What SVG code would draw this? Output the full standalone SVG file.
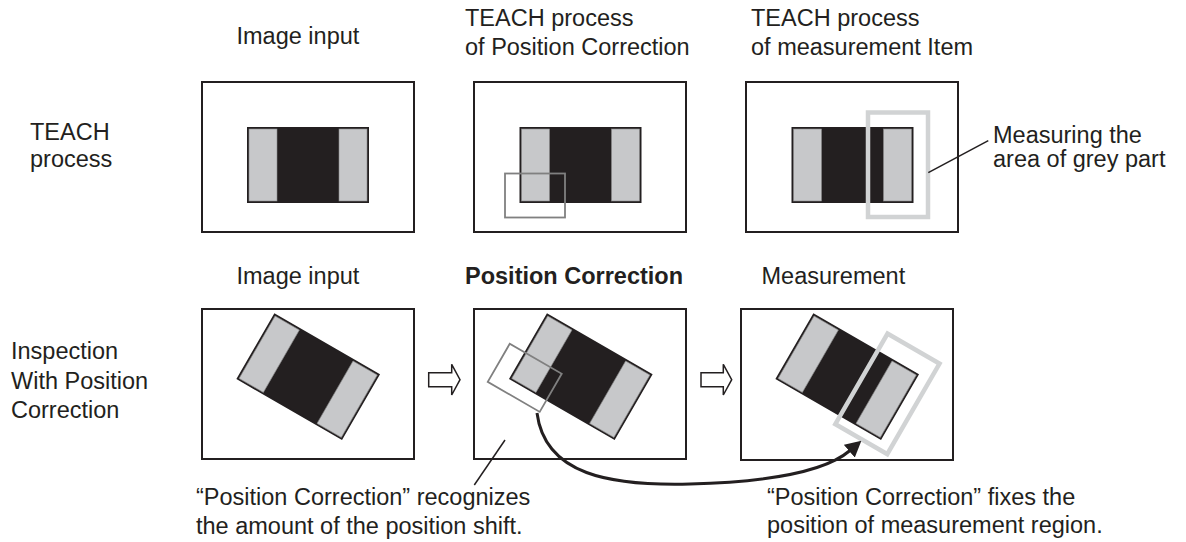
<svg xmlns="http://www.w3.org/2000/svg" width="1186" height="542" viewBox="0 0 1186 542">
<style>
text{font-family:"Liberation Sans",Arial,sans-serif;font-size:23.5px;fill:#231f20}
.b{font-weight:bold}
.frame{fill:#fff;stroke:#231f20;stroke-width:2}
.body{fill:#231f20;stroke:#231f20;stroke-width:2}
.band{fill:#c7c8ca;stroke:#8a8a8a;stroke-width:0.6}
.roi{fill:none;stroke:#808080;stroke-width:1.8}
.mroi{fill:none;stroke:#d1d3d4;stroke-width:4.5}
.lead{fill:none;stroke:#231f20;stroke-width:1.5}
.blk{fill:#fff;stroke:#231f20;stroke-width:1.5;stroke-linejoin:miter}
.curve{fill:none;stroke:#231f20;stroke-width:3}
</style>
<defs>
<g id="chip">
<rect class="body" x="-60" y="-37" width="120" height="74"/>
<rect class="band" x="-59" y="-36" width="28" height="72"/>
<rect class="band" x="31" y="-36" width="28" height="72"/>
</g>
<marker id="ah" markerUnits="userSpaceOnUse" viewBox="0 0 16 17" refX="1" refY="8.5" markerWidth="16" markerHeight="17" orient="auto">
<path d="M0,0 L16,8.5 L0,17 Z" fill="#231f20"/>
</marker>
</defs>
<rect width="1186" height="542" fill="#fff"/>

<g id="labels">
<text x="236.5" y="44">Image input</text>
<text x="465" y="26">TEACH process</text>
<text x="465" y="55">of Position Correction</text>
<text x="751" y="26">TEACH process</text>
<text x="751" y="55">of measurement Item</text>
<text x="30" y="140">TEACH</text>
<text x="30" y="166.5">process</text>
<text x="236.5" y="284">Image input</text>
<text class="b" x="465" y="284">Position Correction</text>
<text x="761.5" y="283.5">Measurement</text>
<text x="11" y="359">Inspection</text>
<text x="11" y="389">With Position</text>
<text x="11" y="418">Correction</text>
</g>

<g id="teach-image-input">
<rect class="frame" x="202" y="82" width="212" height="150"/>
<use href="#chip" x="308" y="165"/>
</g>

<g id="teach-position-correction">
<rect class="frame" x="474" y="82" width="212" height="150"/>
<use href="#chip" x="580.5" y="165"/>
<rect class="roi" x="505" y="173.5" width="60" height="44"/>
</g>

<g id="teach-measurement">
<rect class="frame" x="746" y="82" width="212" height="150"/>
<use href="#chip" x="852.5" y="165"/>
<rect class="mroi" x="868" y="112.5" width="60" height="104.5"/>
<text x="993" y="142.7">Measuring the</text>
<text x="993" y="166.7">area of grey part</text>
</g>

<g id="insp-image-input">
<rect class="frame" x="202" y="309" width="212" height="150"/>
<g transform="translate(308.2,376.7) rotate(30)"><use href="#chip"/></g>
</g>

<g id="insp-position-correction">
<rect class="frame" x="474" y="309" width="212" height="150"/>
<g transform="translate(580.8,376.7) rotate(30)">
<use href="#chip"/>
<rect class="roi" x="-78" y="7" width="60" height="44"/>
</g>
</g>

<g id="insp-measurement">
<rect class="frame" x="741" y="309" width="212" height="151"/>
<g transform="translate(847.2,376.7) rotate(30)">
<use href="#chip"/>
<rect class="mroi" x="13.4" y="-57.5" width="60" height="104.5"/>
</g>
</g>

<g id="caption-left">
<text x="196" y="505">“Position Correction” recognizes</text>
<text x="196" y="534">the amount of the position shift.</text>
</g>
<g id="caption-right">
<text x="767" y="505">“Position Correction” fixes the</text>
<text x="767" y="533">position of measurement region.</text>
</g>

<g id="connectors">
<line class="lead" x1="928.3" y1="172.7" x2="988.3" y2="140.7"/>
<line class="lead" x1="474.3" y1="485" x2="505" y2="440"/>
<polygon class="blk" points="428.7,372.7 451.7,372.7 451.7,364.3 460,379.7 451.7,395 451.7,386.7 428.7,386.7"/>
<polygon class="blk" points="701,372.7 723.3,372.7 723.3,364.3 731.7,379.7 723.3,395 723.3,386.7 701,386.7"/>
<path class="curve" d="M537,413 C545,475 610,486 690,484 C765,482 825,472 850,450.5" marker-end="url(#ah)"/>
</g>
</svg>
